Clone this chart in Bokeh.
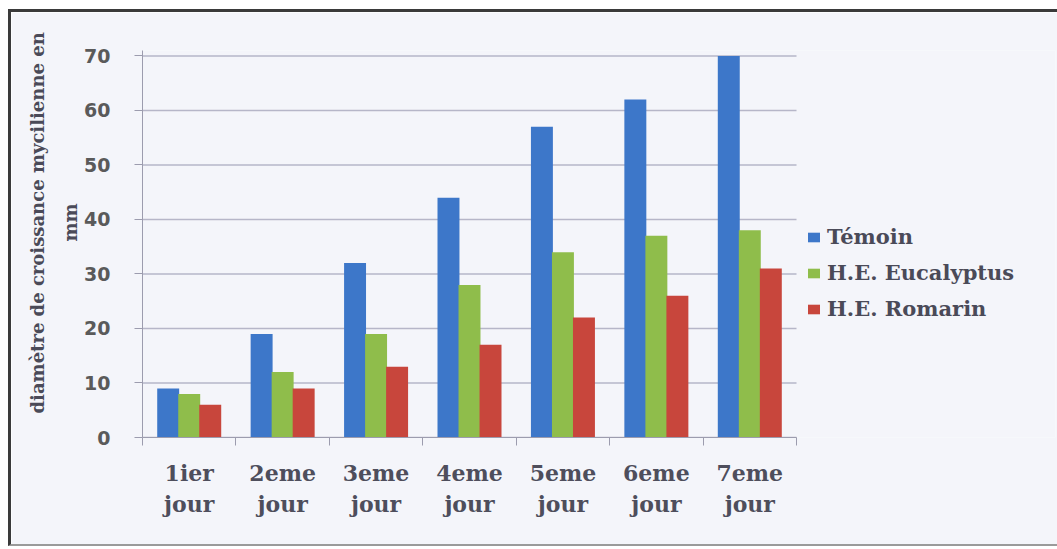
from bokeh.plotting import figure
from bokeh.models import ColumnDataSource, Range1d, Legend, LegendItem, FixedTicker, Title
from bokeh.embed import file_html
from bokeh.resources import INLINE
from bokeh.transform import dodge

days = ["1ier\njour", "2eme\njour", "3eme\njour", "4eme\njour", "5eme\njour", "6eme\njour", "7eme\njour"]
temoin = [9, 19, 32, 44, 57, 62, 70]
eucalyptus = [8, 12, 19, 28, 34, 37, 38]
romarin = [6, 9, 13, 17, 22, 26, 31]
series_names = ["Témoin", "H.E. Eucalyptus", "H.E. Romarin"]
y_ticks = [0, 10, 20, 30, 40, 50, 60, 70]
y_title_line1 = "diamètre de croissance mycilienne en"
y_title_line2 = "mm"

n = len(days)
xc = [i + 0.5 for i in range(n)]
bounds = list(range(n + 1))
src = ColumnDataSource(dict(x=xc, t=temoin, e=eucalyptus, r=romarin))

BG = "#f4f5fa"
p = figure(width=1049, height=537, x_range=Range1d(0, 9.772), y_range=Range1d(0, 71),
           output_backend="svg", toolbar_location=None,
           min_border_left=131, min_border_right=5, min_border_top=38, min_border_bottom=112)
p.styles = {"margin-left": "8px", "margin-top": "9px",
            "border-left": "3px solid #3a3a3a", "border-top": "3px solid #3a3a3a",
            "border-bottom": "2px solid #9a9a9a"}
p.background_fill_color = BG
p.border_fill_color = BG
p.outline_line_color = None

# grid lines spanning only the category area
p.xgrid.grid_line_color = None
p.ygrid.grid_line_color = None
p.segment(x0=[0] * len(y_ticks), x1=[n] * len(y_ticks), y0=y_ticks, y1=y_ticks,
          line_color="#b6b6c8", line_width=1.5)

w = 0.235
colors = ["#3d77c9", "#8fbd4b", "#c8463c"]
r1 = p.vbar(x=dodge("x", -0.225), top="t", width=w, source=src, fill_color=colors[0], line_color=None)
r2 = p.vbar(x="x", top="e", width=w, source=src, fill_color=colors[1], line_color=None)
r3 = p.vbar(x=dodge("x", 0.225), top="r", width=w, source=src, fill_color=colors[2], line_color=None)

p.yaxis.ticker = FixedTicker(ticks=y_ticks)
p.yaxis.axis_line_color = "#9c9cae"
p.yaxis.major_tick_line_color = "#9c9cae"
p.yaxis.major_tick_out = 8
p.yaxis.major_tick_in = 0
p.yaxis.minor_tick_line_color = None
p.yaxis.major_label_standoff = 24
p.yaxis.major_label_text_font = "DejaVu Sans"
p.yaxis.major_label_text_font_style = "bold"
p.yaxis.major_label_text_font_size = "19px"
p.yaxis.major_label_text_color = "#5a5a5a"

for txt, sto, off in [(y_title_line2, 2, 196), (y_title_line1, 17, 24)]:
    p.add_layout(Title(text=txt, align="left", offset=off, standoff=sto,
                       text_font="DejaVu Serif", text_font_style="bold",
                       text_font_size="18px", text_color="#4a4a58"), "left")

p.xaxis.bounds = (0, n)
p.xaxis.ticker = FixedTicker(ticks=xc, minor_ticks=bounds)
p.xaxis.major_label_overrides = {x: d for x, d in zip(xc, days)}
p.xaxis.axis_line_color = "#9c9cae"
p.xaxis.major_tick_line_color = None
p.xaxis.minor_tick_line_color = "#9c9cae"
p.xaxis.minor_tick_out = 8
p.xaxis.minor_tick_in = 0
p.xaxis.major_label_standoff = 14
p.xaxis.major_label_text_font = "DejaVu Serif"
p.xaxis.major_label_text_font_style = "bold"
p.xaxis.major_label_text_font_size = "22px"
p.xaxis.major_label_text_color = "#4e4e5c"
p.xaxis.major_label_text_line_height = 1.2

legend = Legend(items=[LegendItem(label=series_names[0], renderers=[r1]),
                       LegendItem(label=series_names[1], renderers=[r2]),
                       LegendItem(label=series_names[2], renderers=[r3])],
                location=(664, 116), padding=0, margin=0, spacing=11,
                label_height=24, glyph_height=12, glyph_width=15, label_standoff=6,
                background_fill_alpha=0, border_line_color=None,
                label_text_font="DejaVu Serif", label_text_font_style="bold",
                label_text_font_size="21px", label_text_color="#4a4a58")
p.add_layout(legend)

open("out.html", "w").write(file_html(p, INLINE))
